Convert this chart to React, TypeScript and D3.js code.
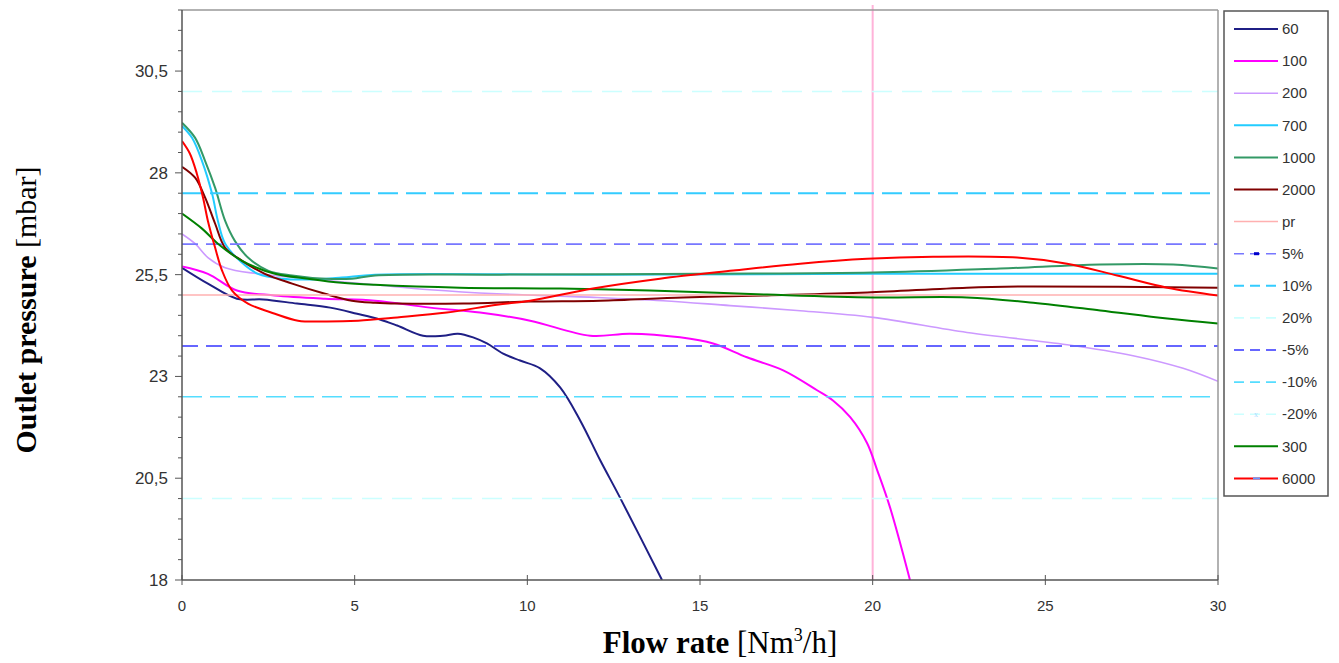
import React from "react";
import * as d3 from "d3";

// flow [Nm3/h], outlet pressure [mbar]
const s60: [number, number][] = [
  [0, 25.67], [0.75, 25.28], [1.59, 24.91], [2.35, 24.89], [3.33, 24.79], [4.29, 24.69],
  [5.07, 24.54], [5.73, 24.4], [6.23, 24.25], [6.98, 24.0], [7.56, 24.0], [7.99, 24.05],
  [8.43, 23.96], [8.83, 23.81], [9.3, 23.56], [9.79, 23.39], [10.37, 23.2], [10.95, 22.73],
  [11.53, 21.92], [12.11, 20.94], [12.68, 20.03], [13.9, 18.0],
];
const s100: [number, number][] = [
  [0, 25.7], [0.75, 25.52], [1.59, 25.11], [2.69, 24.99], [4.14, 24.91], [5.59, 24.86],
  [7.18, 24.69], [8.63, 24.57], [10.08, 24.37], [11.82, 24.0], [12.97, 24.05], [14.42, 23.96],
  [15.38, 23.81], [16.36, 23.47], [17.41, 23.15], [18.39, 22.66], [18.85, 22.41], [19.35, 22.0],
  [19.84, 21.36], [20.13, 20.7], [20.5, 19.79], [21.08, 18.0],
];
const s200: [number, number][] = [
  [0, 26.5], [0.38, 26.26], [0.75, 25.92], [1.25, 25.67], [2.2, 25.52], [3.65, 25.4],
  [5.59, 25.25], [7.18, 25.13], [9.12, 25.03], [12.02, 24.94], [13.93, 24.86], [15.87, 24.74],
  [17.81, 24.62], [20.01, 24.45], [22.73, 24.08], [25.63, 23.78], [27.54, 23.51], [28.99, 23.2],
  [30, 22.88],
];
const s700: [number, number][] = [
  [0, 29.15], [0.29, 28.86], [0.58, 28.29], [0.87, 27.49], [1.04, 26.82], [1.25, 26.26],
  [1.74, 25.79], [2.2, 25.52], [2.9, 25.4], [3.65, 25.38], [4.63, 25.43], [5.59, 25.5],
  [12, 25.5], [20, 25.52], [30, 25.52],
];
const s1000: [number, number][] = [
  [0, 29.23], [0.38, 28.86], [0.67, 28.29], [0.96, 27.63], [1.25, 26.82], [1.53, 26.33],
  [1.91, 25.92], [2.49, 25.6], [3.19, 25.48], [4.14, 25.4], [4.92, 25.4], [5.59, 25.48],
  [9.21, 25.5], [15, 25.52], [20.01, 25.55], [23.69, 25.65], [26.59, 25.75], [28.7, 25.75],
  [30, 25.65],
];
const s2000: [number, number][] = [
  [0, 28.15], [0.38, 27.88], [0.67, 27.39], [0.96, 26.75], [1.25, 26.16], [1.74, 25.84],
  [2.4, 25.52], [3.19, 25.28], [4.14, 25.03], [4.92, 24.86], [5.59, 24.81], [6.23, 24.79],
  [8.14, 24.79], [10.08, 24.84], [12.11, 24.86], [14.51, 24.94], [16.94, 24.99], [19.84, 25.06],
  [22.73, 25.18], [24.65, 25.21], [30, 25.18],
];
const s300: [number, number][] = [
  [0, 27.0], [0.58, 26.63], [1.04, 26.26], [1.74, 25.84], [2.69, 25.52], [3.65, 25.4],
  [4.63, 25.3], [5.59, 25.25], [8.05, 25.18], [10.95, 25.16], [13.55, 25.11], [16.94, 25.01],
  [20.01, 24.94], [22.73, 24.94], [24.65, 24.81], [26.59, 24.62], [28.53, 24.42], [30, 24.3],
];
const s6000: [number, number][] = [
  [0, 28.78], [0.23, 28.47], [0.43, 27.98], [0.61, 27.39], [0.75, 26.82], [0.96, 26.16],
  [1.16, 25.6], [1.45, 25.11], [1.91, 24.79], [2.69, 24.54], [3.36, 24.37], [4.14, 24.35],
  [5.1, 24.37], [6.23, 24.45], [7.67, 24.57], [9.12, 24.76], [10.08, 24.86], [11.9, 25.16],
  [13.84, 25.4], [15.96, 25.6], [17.9, 25.77], [19.84, 25.89], [21.75, 25.94], [24.18, 25.92],
  [25.63, 25.77], [27.08, 25.48], [28.53, 25.18], [30, 24.99],
];

// nominal pressure and tolerance bands [mbar]
const pr = 25;
const plus5 = 26.25;
const plus10 = 27.5;
const plus20 = 30;
const minus5 = 23.75;
const minus10 = 22.5;
const minus20 = 20;
const limitFlow = 20;

const xTicks = [0, 5, 10, 15, 20, 25, 30];
const yTicks = [18, 20.5, 23, 25.5, 28, 30.5];
const legendNames = ["60", "100", "200", "700", "1000", "2000", "pr", "5%", "10%", "20%", "-5%", "-10%", "-20%", "300", "6000"];

type Style = { color: string; width: number; dash?: string };

const curveStyle: Record<string, Style> = {
  "60": { color: "#1f1f85", width: 2 },
  "100": { color: "#ff00ff", width: 2 },
  "200": { color: "#cc99ff", width: 1.6 },
  "700": { color: "#22ccff", width: 2 },
  "1000": { color: "#339966", width: 2 },
  "2000": { color: "#800000", width: 2 },
  pr: { color: "#ffb0b0", width: 1.5 },
  "5%": { color: "#7777ff", width: 1.6, dash: "16,8" },
  "10%": { color: "#33ccff", width: 2, dash: "20,8" },
  "20%": { color: "#ccffff", width: 1.6, dash: "20,10" },
  "-5%": { color: "#6666ff", width: 2, dash: "16,8" },
  "-10%": { color: "#55ddff", width: 1.6, dash: "20,8" },
  "-20%": { color: "#ccffff", width: 1.6, dash: "20,10" },
  "300": { color: "#008000", width: 2 },
  "6000": { color: "#ff0000", width: 2 },
};

const x = d3.scaleLinear().domain([0, 30]).range([182, 1218]);
const y = d3.scaleLinear().domain([18, 32]).range([580, 10]);

const line = d3
  .line<[number, number]>()
  .x((d) => x(d[0]))
  .y((d) => y(d[1]))
  .curve(d3.curveCatmullRom.alpha(0.5));

const fmt = (v: number) => String(v).replace(".", ",");

export default function App() {
  const curves: Record<string, [number, number][]> = {
    "60": s60, "100": s100, "200": s200, "700": s700, "1000": s1000, "2000": s2000, "300": s300, "6000": s6000,
  };
  const levels: Record<string, number> = {
    pr: pr, "5%": plus5, "10%": plus10, "20%": plus20, "-5%": minus5, "-10%": minus10, "-20%": minus20,
  };
  const minorY = d3.range(18, 32.01, 0.5);

  return (
    <svg width={1339} height={663} style={{ position: "absolute", left: 0, top: 0, background: "#fff" }}>
      <clipPath id="plot">
        <rect x={x(0)} y={y(32)} width={x(30) - x(0)} height={y(18) - y(32)} />
      </clipPath>

      {/* vertical limit at 20 Nm3/h */}
      <line x1={x(limitFlow)} x2={x(limitFlow)} y1={5} y2={y(18)} stroke="#ffb3d9" strokeWidth={2} />

      <g clipPath="url(#plot)" fill="none">
        {legendNames.map((name) => {
          const st = curveStyle[name];
          if (curves[name]) {
            return <path key={name} d={line(curves[name]) || ""} stroke={st.color} strokeWidth={st.width} />;
          }
          const v = levels[name];
          return (
            <line key={name} x1={x(0)} x2={x(30)} y1={y(v)} y2={y(v)} stroke={st.color}
              strokeWidth={st.width} strokeDasharray={st.dash} />
          );
        })}
      </g>

      {/* frame */}
      <line x1={x(0)} x2={x(30)} y1={y(32)} y2={y(32)} stroke="#999" strokeWidth={1.5} />
      <line x1={x(30)} x2={x(30)} y1={y(32)} y2={y(18)} stroke="#999" strokeWidth={1.5} />
      <line x1={x(0)} x2={x(0)} y1={y(32)} y2={y(18)} stroke="#555" strokeWidth={1.5} />
      <line x1={x(0)} x2={x(30)} y1={y(18)} y2={y(18)} stroke="#555" strokeWidth={1.5} />

      {/* y ticks */}
      {minorY.map((v) => (
        <line key={v} x1={x(0) - (yTicks.includes(v) ? 7 : 4)} x2={x(0)} y1={y(v)} y2={y(v)} stroke="#555" strokeWidth={1} />
      ))}
      {yTicks.map((v) => (
        <text key={v} x={168} y={y(v)} dy="0.35em" textAnchor="end" fontFamily="Liberation Sans, Arial, sans-serif"
          fontSize={17} fill="#333">{fmt(v)}</text>
      ))}

      {/* x ticks */}
      {xTicks.map((v) => (
        <g key={v}>
          <line x1={x(v)} x2={x(v)} y1={y(18) - 5} y2={y(18) + 5} stroke="#555" strokeWidth={1} />
          <text x={x(v)} y={606} dy="0.35em" textAnchor="middle" fontFamily="Liberation Sans, Arial, sans-serif"
            fontSize={15} fill="#333">{v}</text>
        </g>
      ))}

      {/* axis titles */}
      <text x={720} y={653} textAnchor="middle" fontFamily="Liberation Serif, Times New Roman, serif" fontSize={31} fill="#000">
        <tspan fontWeight="bold">Flow rate</tspan>
        <tspan> [Nm</tspan>
        <tspan fontSize={18} dy={-12}>3</tspan>
        <tspan dy={12}>/h]</tspan>
      </text>
      <text transform="translate(36,310) rotate(-90)" textAnchor="middle" fontFamily="Liberation Serif, Times New Roman, serif"
        fontSize={30} fill="#000">
        <tspan fontWeight="bold">Outlet pressure</tspan>
        <tspan> [mbar]</tspan>
      </text>

      {/* legend */}
      <rect x={1224} y={11} width={104} height={485} fill="#fff" stroke="#555" strokeWidth={1.5} />
      {legendNames.map((name, i) => {
        const st = curveStyle[name];
        const ly = 29 + i * 32.1;
        return (
          <g key={name}>
            <line x1={1234} x2={1278} y1={ly} y2={ly} stroke={st.color} strokeWidth={st.width}
              strokeDasharray={st.dash ? "10,6" : undefined} />
            {name === "5%" && <rect x={1254} y={ly - 1.5} width={5} height={3} fill="#0000cc" />}
            {name === "6000" && <rect x={1253} y={ly - 1} width={7} height={2} fill="#6699ff" />}
            {name === "-20%" && <text x={1256} y={ly} dy="0.35em" textAnchor="middle" fontSize={8} fill="#aaddff">x</text>}
            <text x={1282} y={ly} dy="0.35em" fontFamily="Liberation Sans, Arial, sans-serif" fontSize={15} fill="#333">{name}</text>
          </g>
        );
      })}
    </svg>
  );
}
